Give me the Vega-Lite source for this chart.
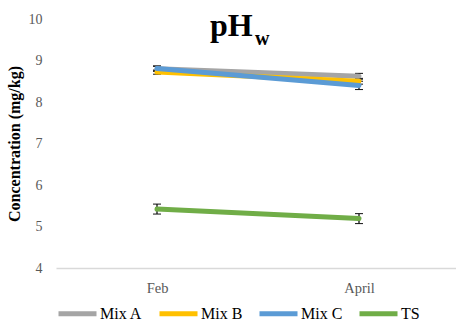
{
  "$schema": "https://vega.github.io/schema/vega-lite/v6.json",
  "width": 404,
  "height": 249,
  "autosize": "none",
  "padding": {"left": 56, "top": 19, "right": 0, "bottom": 55},
  "background": "white",
  "config": {
    "font": "Liberation Serif",
    "view": {"stroke": null},
    "legend": {"labelFont": "Liberation Serif", "labelFontSize": 16, "labelColor": "#000000"},
    "axis": {"labelFont": "Liberation Serif", "titleFont": "Liberation Serif"}
  },
  "title": {
    "text": "pH",
    "subtitle": "\u2800\u2800\u2800w",
    "anchor": "start",
    "frame": "group",
    "dx": 154,
    "offset": -38,
    "font": "Liberation Serif",
    "fontSize": 32,
    "fontWeight": "bold",
    "color": "#000000",
    "subtitleFont": "Liberation Serif",
    "subtitleFontSize": 20,
    "subtitleFontWeight": "bold",
    "subtitleColor": "#000000",
    "subtitlePadding": -14
  },
  "data": {
    "values": [
      {"series": "Mix A", "month": "Feb", "value": 8.80, "lo": 8.74, "hi": 8.86},
      {"series": "Mix A", "month": "April", "value": 8.62, "lo": 8.55, "hi": 8.69},
      {"series": "Mix B", "month": "Feb", "value": 8.72, "lo": 8.67, "hi": 8.77},
      {"series": "Mix B", "month": "April", "value": 8.50, "lo": 8.43, "hi": 8.57},
      {"series": "Mix C", "month": "Feb", "value": 8.81, "lo": 8.75, "hi": 8.87},
      {"series": "Mix C", "month": "April", "value": 8.40, "lo": 8.30, "hi": 8.50},
      {"series": "TS", "month": "Feb", "value": 5.42, "lo": 5.30, "hi": 5.54},
      {"series": "TS", "month": "April", "value": 5.19, "lo": 5.07, "hi": 5.31}
    ]
  },
  "encoding": {
    "x": {
      "field": "month",
      "type": "nominal",
      "sort": ["Feb", "April"],
      "scale": {"type": "point", "padding": 0.5},
      "axis": {
        "title": null,
        "labelAngle": 0,
        "labelColor": "#595959",
        "labelFontSize": 14.5,
        "labelFont": "Liberation Serif",
        "labelPadding": 13,
        "ticks": false,
        "domainColor": "#D9D9D9",
        "domainWidth": 1.3,
        "grid": false
      }
    }
  },
  "layer": [
    {
      "mark": {
        "type": "errorbar",
        "ticks": {"size": 8, "color": "#111111", "strokeWidth": 1.6, "opacity": 1},
        "rule": {"color": "#111111", "strokeWidth": 1.3, "opacity": 1}
      },
      "encoding": {
        "y": {
          "field": "lo",
          "type": "quantitative",
          "scale": {"domain": [4, 10], "nice": false, "zero": false},
          "title": "Concentration (mg/kg)"
        },
        "y2": {"field": "hi"},
        "detail": {"field": "series"}
      }
    },
    {
      "mark": {"type": "line", "strokeWidth": 5, "strokeCap": "round"},
      "encoding": {
        "y": {
          "field": "value",
          "type": "quantitative",
          "scale": {"domain": [4, 10], "nice": false, "zero": false},
          "axis": {
            "title": "Concentration (mg/kg)",
            "titleFont": "Liberation Serif",
            "titleFontSize": 16,
            "titleFontWeight": "bold",
            "titleColor": "#000000",
            "titlePadding": 6,
            "values": [4, 5, 6, 7, 8, 9, 10],
            "labelColor": "#595959",
            "labelFontSize": 14,
            "labelFont": "Liberation Serif",
            "labelPadding": 14,
            "ticks": false,
            "domain": false,
            "grid": false
          }
        },
        "color": {
          "field": "series",
          "type": "nominal",
          "scale": {
            "domain": ["Mix A", "Mix B", "Mix C", "TS"],
            "range": ["#A5A5A5", "#FFC000", "#5B9BD5", "#70AD47"]
          },
          "legend": {
            "title": null,
            "orient": "bottom",
            "direction": "horizontal",
            "symbolType": "stroke",
            "symbolStrokeWidth": 5,
            "symbolSize": 1444,
            "labelFont": "Liberation Serif",
            "labelFontSize": 16,
            "labelColor": "#000000",
            "labelOffset": 1,
            "columnPadding": 6,
            "offset": -3
          }
        },
        "order": {"field": "month", "type": "nominal"}
      }
    }
  ]
}
